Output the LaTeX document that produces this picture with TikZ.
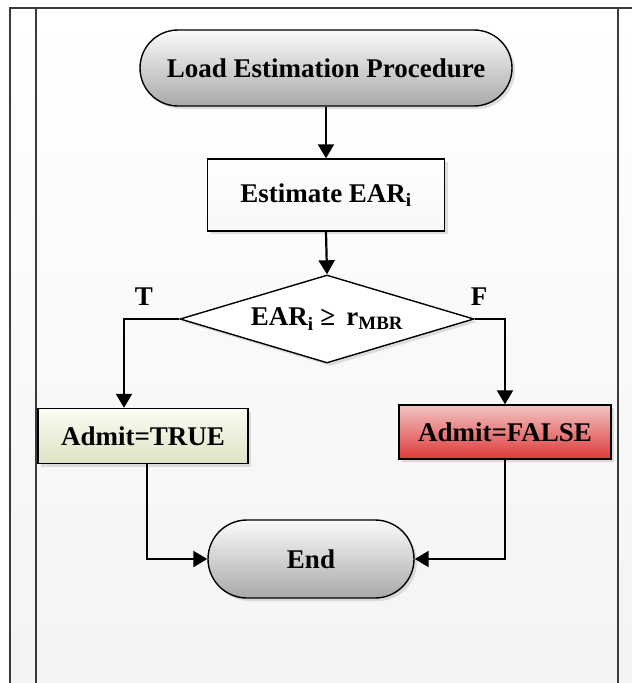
\documentclass[tikz,border=0pt]{standalone}
\usepackage{fontspec}
\setmainfont{Liberation Serif}
\usetikzlibrary{shapes.geometric,shapes.misc,arrows.meta,shadows}

\definecolor{frameline}{HTML}{3A3A3A}
\definecolor{termtop}{HTML}{FAFAFA}
\definecolor{termbot}{HTML}{A9A9A9}
\definecolor{oktop}{HTML}{FBFCF3}
\definecolor{okbot}{HTML}{DCE3C4}
\definecolor{notop}{HTML}{F3C4C4}
\definecolor{nobot}{HTML}{DC3A38}

\tikzset{
  base/.style={draw=black, line width=1.4pt, font=\fontsize{27}{32}\selectfont\bfseries,
    text=black, inner sep=0pt,
    drop shadow={shadow xshift=3pt, shadow yshift=-3pt, opacity=0.35, fill=gray!70}},
  terminal/.style={base, rounded rectangle, top color=termtop, bottom color=termbot},
  procbox/.style={base, rectangle, top color=white, bottom color=gray!6},
  yesbox/.style={base, rectangle, top color=oktop, bottom color=okbot},
  nobox/.style={base, rectangle, top color=notop, bottom color=nobot},
  decision/.style={base, diamond, fill=white, aspect=3.34},
  flow/.style={line width=2.2pt, -{Triangle[length=14pt,width=16pt]}},
  branchlabel/.style={font=\fontsize{27}{32}\selectfont\bfseries, inner sep=0pt}
}

\begin{document}
\begin{tikzpicture}[x=1pt, y=-1pt]
  \useasboundingbox (0,0) rectangle (632,683);

  % page background and frame lines
  \shade[top color=white, bottom color=gray!9] (10,8) rectangle (632,683);
  \draw[line width=1.3pt, frameline] (10,683) -- (10,8) -- (632,8);
  \draw[line width=1.3pt, frameline] (36,8) -- (36,683);
  \draw[line width=1.3pt, frameline] (618,8) -- (618,683);

  % nodes
  \node[terminal, minimum width=372pt, minimum height=76pt] (start) at (326,68) {Load Estimation Procedure};
  \node[procbox, minimum width=237pt, minimum height=72pt] (est) at (326,195) {Estimate EAR\textsubscript{i}};
  \node[decision, minimum width=294pt, minimum height=88pt] (dec) at (327,319)
    {EAR\textsubscript{i} ≥\, r\textsubscript{MBR}};
  \node[yesbox, minimum width=210pt, minimum height=55pt] (yes) at (143,436) {Admit=TRUE};
  \node[nobox, minimum width=212pt, minimum height=54pt] (no) at (505,432) {Admit=FALSE};
  \node[terminal, minimum width=206pt, minimum height=78pt] (end) at (311,559) {End};

  % branch labels
  \node[branchlabel] (tlab) at (144,297) {T};
  \node[branchlabel] (flab) at (479,297) {F};

  % connectors
  \draw[flow] (start.south) -- (est.north);
  \draw[flow] (est.south) -- (dec.north);
  \draw[flow] (dec.west) -| ([xshift=-19pt]yes.north);
  \draw[flow] (dec.east) -| (no.north);
  \draw[flow] ([xshift=4pt]yes.south) |- (end.west);
  \draw[flow] (no.south) |- (end.east);
\end{tikzpicture}
\end{document}
